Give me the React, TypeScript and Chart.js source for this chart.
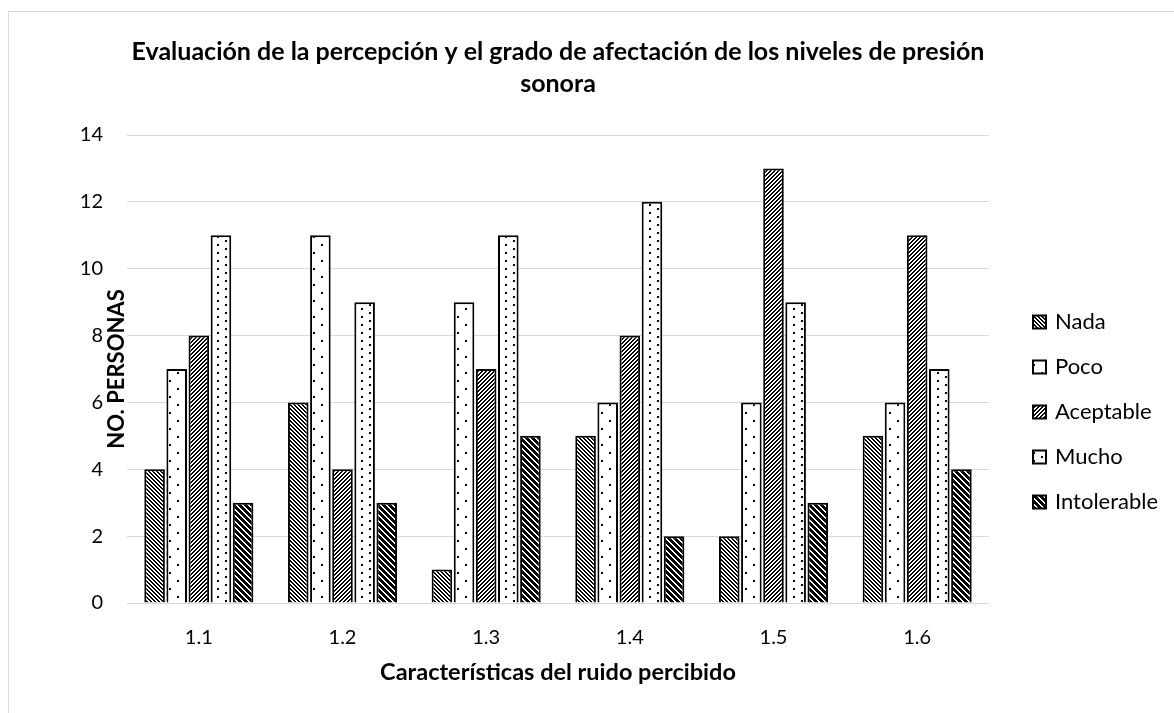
import React, { useEffect, useRef } from 'react';
import { Chart, registerables } from 'chart.js';

Chart.register(...registerables);

const categories = ['1.1', '1.2', '1.3', '1.4', '1.5', '1.6'];
const seriesNames = ['Nada', 'Poco', 'Aceptable', 'Mucho', 'Intolerable'];
const nada = [4, 6, 1, 5, 2, 5];
const poco = [7, 11, 9, 6, 6, 6];
const aceptable = [8, 4, 7, 8, 13, 11];
const mucho = [11, 9, 11, 12, 9, 7];
const intolerable = [3, 3, 5, 2, 3, 4];
const yMin = 0;
const yMax = 14;
const yStep = 2;
const titleLines = [
  'Evaluación de la percepción y el grado de afectación de los niveles de presión',
  'sonora',
];
const xTitle = 'Características del ruido percibido';
const yTitle = 'NO. PERSONAS';

const FONT = 'Lato, Carlito, "Noto Sans", sans-serif';
const TEXT = '#000000';

type Kind = 'down' | 'sparseDots' | 'up' | 'dots' | 'wideDown';
const patternKinds: Kind[] = ['down', 'sparseDots', 'up', 'dots', 'wideDown'];

function makePattern(ctx: CanvasRenderingContext2D, kind: Kind): CanvasPattern | string {
  const c = document.createElement('canvas');
  let w = 4;
  let h = 4;
  if (kind === 'sparseDots') { w = 16; h = 16; }
  if (kind === 'dots') { w = 16; h = 8; }
  if (kind === 'wideDown') { w = 6; h = 6; }
  c.width = w;
  c.height = h;
  const g = c.getContext('2d')!;
  g.fillStyle = '#ffffff';
  g.fillRect(0, 0, w, h);
  g.fillStyle = '#000000';
  if (kind === 'down' || kind === 'wideDown') {
    const thick = kind === 'down' ? 2 : 4;
    for (let y = 0; y < h; y++) {
      for (let t = 0; t < thick; t++) g.fillRect((y + t) % w, y, 1, 1);
    }
  } else if (kind === 'up') {
    const thick = 2;
    for (let y = 0; y < h; y++) {
      for (let t = 0; t < thick; t++) g.fillRect((w - 1 - y + t + w) % w, y, 1, 1);
    }
  } else if (kind === 'sparseDots') {
    g.fillRect(0, 0, 2, 2);
    g.fillRect(8, 8, 2, 2);
  } else if (kind === 'dots') {
    g.fillRect(0, 0, 2, 2);
    g.fillRect(8, 4, 2, 2);
  }
  return ctx.createPattern(c, 'repeat') || '#ffffff';
}

const legendPlugin = {
  id: 'sideLegend',
  afterDraw(chart: any) {
    const ctx: CanvasRenderingContext2D = chart.ctx;
    const area = chart.chartArea;
    const boxX = area.right + 44;
    const box = 13;
    const textX = boxX + 22;
    const startY = area.top + 187;
    const gap = 45;
    ctx.save();
    ctx.font = `22px ${FONT}`;
    ctx.textBaseline = 'middle';
    ctx.textAlign = 'left';
    chart.data.datasets.forEach((ds: any, i: number) => {
      const cy = startY + i * gap;
      ctx.fillStyle = ds.backgroundColor;
      ctx.fillRect(boxX, cy - box / 2, box, box);
      ctx.lineWidth = 2;
      ctx.strokeStyle = '#000000';
      ctx.strokeRect(boxX, cy - box / 2, box, box);
      ctx.fillStyle = TEXT;
      ctx.fillText(ds.label, textX, cy);
    });
    ctx.restore();
  },
};

export default function App() {
  const ref = useRef<HTMLCanvasElement | null>(null);

  useEffect(() => {
    const canvas = ref.current;
    if (!canvas) return;
    const ctx = canvas.getContext('2d')!;
    const values = [nada, poco, aceptable, mucho, intolerable];
    const chart = new Chart(canvas, {
      type: 'bar',
      data: {
        labels: categories,
        datasets: seriesNames.map((name, i) => ({
          label: name,
          data: values[i],
          backgroundColor: makePattern(ctx, patternKinds[i]) as any,
          borderColor: '#000000',
          borderWidth: 2,
          categoryPercentage: 0.77,
          barPercentage: 0.93,
        })),
      },
      options: {
        responsive: false,
        animation: false,
        events: [],
        layout: { padding: { top: 0, right: 185, bottom: 0, left: 0 } },
        plugins: {
          legend: { display: false },
          tooltip: { enabled: false },
          title: {
            display: true,
            text: titleLines,
            fullSize: false,
            color: TEXT,
            font: { family: FONT, size: 25, weight: 'bold', lineHeight: 32 / 25 },
            padding: { top: 24, bottom: 35 },
          },
        },
        scales: {
          x: {
            grid: { display: false, drawTicks: false },
            border: { display: false },
            ticks: {
              color: TEXT,
              font: { family: FONT, size: 20 },
              padding: 23,
            },
            title: {
              display: true,
              text: xTitle,
              color: TEXT,
              font: { family: FONT, size: 23.5, weight: 'bold', lineHeight: 1.2 },
              padding: { top: 0, bottom: 26 },
            },
            afterFit: (s: any) => { s.height = 110; },
          },
          y: {
            min: yMin,
            max: yMax,
            grid: { color: '#d9d9d9', lineWidth: 1, drawTicks: false },
            border: { display: false },
            ticks: {
              stepSize: yStep,
              color: TEXT,
              font: { family: FONT, size: 20 },
              padding: 24,
            },
            title: {
              display: true,
              text: yTitle,
              color: TEXT,
              font: { family: FONT, size: 22, weight: 'bold', lineHeight: 1.2 },
              padding: { top: 95, bottom: 0 },
            },
            afterFit: (s: any) => { s.width = 118; },
          },
        },
      },
      plugins: [legendPlugin],
    });
    return () => chart.destroy();
  }, []);

  return (
    <div
      style={{
        position: 'fixed',
        left: 8,
        top: 11,
        width: 1166,
        height: 702,
        borderLeft: '1px solid #d9d9d9',
        borderTop: '1px solid #d9d9d9',
        boxSizing: 'border-box',
        background: '#ffffff',
      }}
    >
      <canvas ref={ref} width={1165} height={701} style={{ display: 'block', width: 1165, height: 701 }} />
    </div>
  );
}
